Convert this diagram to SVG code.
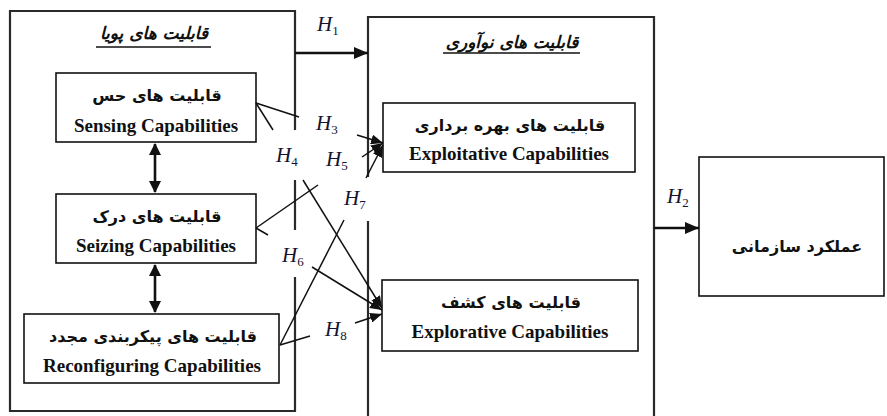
<svg xmlns="http://www.w3.org/2000/svg" width="887" height="416" viewBox="0 0 887 416">
<defs>
<style>
.frame{fill:none;stroke:#2a2a2a;stroke-width:2.2}
.box{fill:#fff;stroke:#111;stroke-width:1.6}
.en{font-family:"Liberation Serif","Times New Roman",serif;font-weight:bold;font-size:19px;text-anchor:middle;fill:#111}
.fa{font-family:"DejaVu Sans",sans-serif;font-weight:bold;font-size:16px;text-anchor:middle;direction:rtl;fill:#111}
.title{font-style:italic;font-size:17px}
.ul{stroke:#111;stroke-width:1.4}
.h{font-family:"Liberation Serif","Times New Roman",serif;font-style:italic;font-size:21px;fill:#141430}
.sub{font-size:13px;font-style:normal}
.ln{fill:none;stroke:#111;stroke-width:1.5}
.thick{fill:none;stroke:#111;stroke-width:2.6}
</style>
<marker id="ah" markerUnits="userSpaceOnUse" markerWidth="12" markerHeight="10" refX="12" refY="5" orient="auto"><path d="M0,0 L12,5 L0,10 z" fill="#111"/></marker>
<marker id="big" markerUnits="userSpaceOnUse" markerWidth="14" markerHeight="12" refX="14" refY="6" orient="auto"><path d="M0,0 L14,6 L0,12 z" fill="#111"/></marker>
<marker id="dbl" markerUnits="userSpaceOnUse" markerWidth="12" markerHeight="12" refX="11" refY="6" orient="auto-start-reverse"><path d="M0,0 L12,6 L0,12 z" fill="#111"/></marker>
</defs>
<rect width="887" height="416" fill="#fff"/>

<g id="dynamic-capabilities">
<path class="frame" d="M295,130 V11 H10 V411 H295 V277 M295,230 V180"/>
<text class="fa title" x="154" y="39">قابلیت های پویا</text>
<line class="ul" x1="96" y1="47" x2="211" y2="47"/>
</g>
<g id="innovation-capabilities">
<path class="frame" d="M368,177 V17 H654 V416 M368,221 V416"/>
<text class="fa title" x="512" y="48">قابلیت های نوآوری</text>
<line class="ul" x1="443" y1="53" x2="580" y2="53"/>
</g>

<g id="sensing">
<rect class="box" x="56" y="73" width="200" height="69"/>
<text class="fa" x="157" y="101">قابلیت های حس</text>
<text class="en" x="156" y="132">Sensing Capabilities</text>
</g>
<g id="seizing">
<rect class="box" x="56" y="194" width="200" height="69"/>
<text class="fa" x="157" y="222">قابلیت های درک</text>
<text class="en" x="156" y="252">Seizing Capabilities</text>
</g>
<g id="reconfiguring">
<rect class="box" x="24" y="314" width="255" height="69"/>
<text class="fa" x="153" y="342">قابلیت های پیکربندی مجدد</text>
<text class="en" x="152" y="372">Reconfiguring Capabilities</text>
</g>
<g id="exploitative">
<rect class="box" x="383" y="103" width="252" height="69"/>
<text class="fa" x="510" y="131">قابلیت های بهره برداری</text>
<text class="en" x="509" y="160">Exploitative Capabilities</text>
</g>
<g id="explorative">
<rect class="box" x="382" y="280" width="256" height="71"/>
<text class="fa" x="511" y="308">قابلیت های کشف</text>
<text class="en" x="510" y="338">Explorative Capabilities</text>
</g>
<g id="performance">
<rect class="box" x="699" y="157" width="185" height="139"/>
<text class="fa" x="797" y="252">عملکرد سازمانی</text>
</g>

<g id="connectors">
<line class="thick" x1="155" y1="144" x2="155" y2="192" marker-start="url(#dbl)" marker-end="url(#dbl)"/>
<line class="thick" x1="155" y1="265" x2="155" y2="312" marker-start="url(#dbl)" marker-end="url(#dbl)"/>
<line class="thick" x1="295" y1="53" x2="368" y2="53" marker-end="url(#big)"/>
<line class="thick" x1="654" y1="228" x2="699" y2="228" marker-end="url(#big)"/>
<path class="ln" d="M256,103 L299,117"/>
<path class="ln" d="M357,135 L383,143" marker-end="url(#ah)"/>
<path class="ln" d="M256,103 L273,130"/>
<path class="ln" d="M303,180 L382,308" marker-end="url(#ah)"/>
<path class="ln" d="M256,228 L318,185"/>
<path class="ln" d="M362,157 L383,143" marker-end="url(#ah)"/>
<path class="ln" d="M256,228 L268,235"/>
<path class="ln" d="M312,267 L382,310" marker-end="url(#ah)"/>
<path class="ln" d="M280,345 L344,220"/>
<path class="ln" d="M366,178 L383,145" marker-end="url(#ah)"/>
<path class="ln" d="M280,345 L310,336"/>
<path class="ln" d="M355,323 L382,314" marker-end="url(#ah)"/>
</g>

<g id="labels">
<text class="h" x="317" y="31">H<tspan class="sub" dy="4">1</tspan></text>
<text class="h" x="667" y="203">H<tspan class="sub" dy="4">2</tspan></text>
<text class="h" x="316" y="130">H<tspan class="sub" dy="4">3</tspan></text>
<text class="h" x="276" y="162">H<tspan class="sub" dy="4">4</tspan></text>
<text class="h" x="326" y="166">H<tspan class="sub" dy="4">5</tspan></text>
<text class="h" x="282" y="262">H<tspan class="sub" dy="4">6</tspan></text>
<text class="h" x="344" y="205">H<tspan class="sub" dy="4">7</tspan></text>
<text class="h" x="325" y="336">H<tspan class="sub" dy="4">8</tspan></text>
</g>
</svg>
